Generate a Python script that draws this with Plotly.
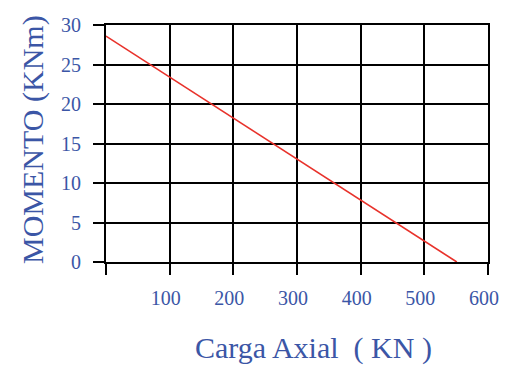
import plotly.graph_objects as go

# Interaction line: axial load vs. moment
carga_axial = [0, 551]
momento = [28.6, 0]

x_ticks = [0, 100, 200, 300, 400, 500, 600]
x_labels = ["", "100", "200", "300", "400", "500", "600"]
y_ticks = [0, 5, 10, 15, 20, 25, 30]
y_labels = ["0", "5", "10", "15", "20", "25", "30"]

BLUE = "#3b56a6"
FONT = "Liberation Serif"

fig = go.Figure()
fig.add_trace(go.Scatter(
    x=carga_axial, y=momento, mode="lines",
    line=dict(color="#e8322b", width=1.6),
    showlegend=False, hoverinfo="skip",
))

axis_common = dict(
    showgrid=True, gridcolor="black", gridwidth=2,
    showline=True, linecolor="black", linewidth=2, mirror=True,
    ticks="outside", ticklen=11, tickwidth=2, tickcolor="black",
    zeroline=False, automargin=False,
    tickfont=dict(family=FONT, size=20, color=BLUE),
)

fig.update_xaxes(range=[0, 600], tickvals=x_ticks, ticktext=x_labels,
                 ticklabelstandoff=6, ticklabelshift=-4, **axis_common)
fig.update_yaxes(range=[0, 30], tickvals=y_ticks, ticktext=y_labels,
                 ticklabelstandoff=8, **axis_common)

fig.add_annotation(
    text="Carga Axial\u00a0\u00a0( KN )", xref="paper", yref="paper",
    x=0.542, y=-0.363, showarrow=False, xanchor="center", yanchor="middle",
    font=dict(family=FONT, size=30, color=BLUE),
)
fig.add_annotation(
    text="MOMENTO (KNm)", xref="paper", yref="paper",
    x=-0.191, y=0.515, showarrow=False, textangle=-90,
    xanchor="center", yanchor="middle",
    font=dict(family=FONT, size=30, color=BLUE),
)

fig.update_layout(
    width=508, height=365,
    margin=dict(l=106, r=20, t=25, b=103),
    paper_bgcolor="white", plot_bgcolor="white",
    font=dict(family=FONT, color=BLUE),
)

fig.write_html("out.html")
